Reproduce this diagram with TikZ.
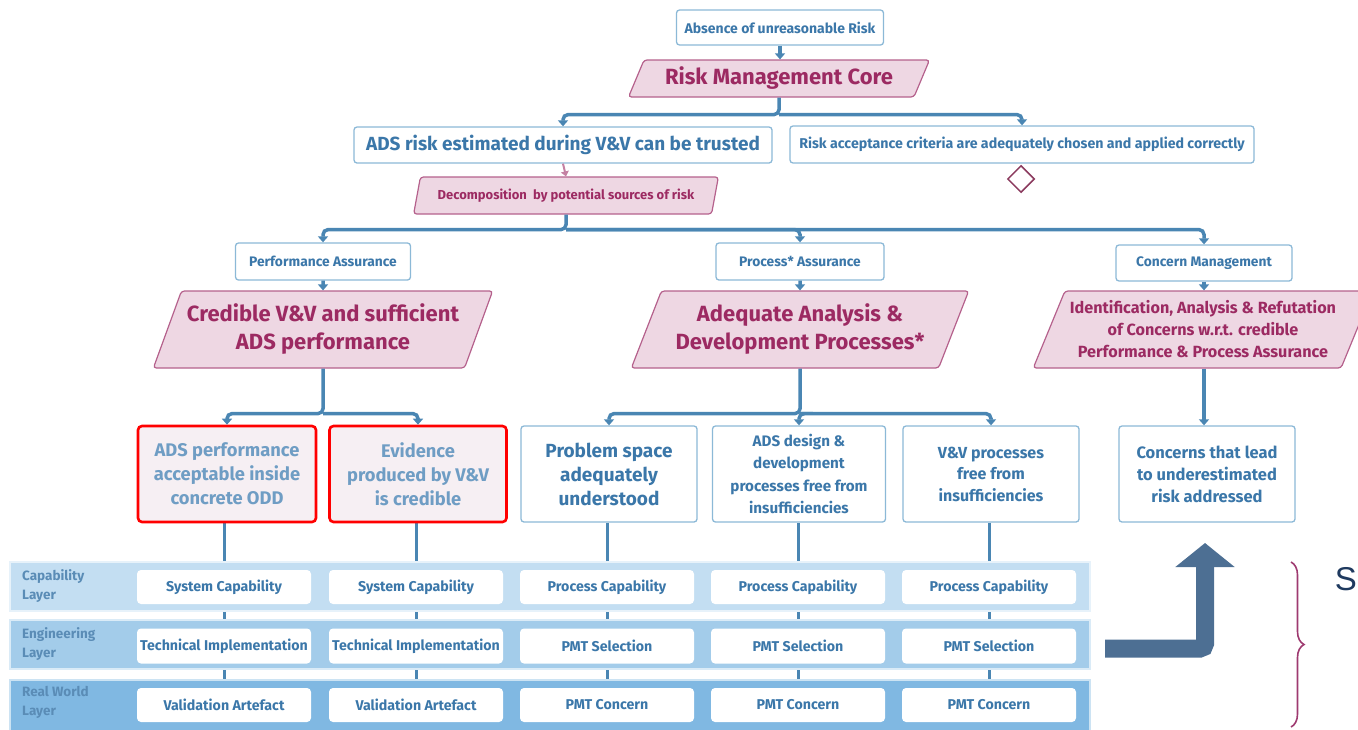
\documentclass[tikz,border=0pt]{standalone}
\usepackage{fontspec}
\setmainfont{Fira Sans}
\newfontfamily\arialfont{Liberation Sans}
\usetikzlibrary{shapes.geometric,arrows.meta,decorations.pathreplacing,calc}
\pgfdeclarelayer{bg}\pgfdeclarelayer{mid}\pgfsetlayers{bg,mid,main}
\definecolor{connc}{HTML}{4A86B3}
\definecolor{bbord}{HTML}{8CB9D7}
\definecolor{btext}{HTML}{3B77A9}
\definecolor{pfill}{HTML}{EED7E3}
\definecolor{pbord}{HTML}{B5618C}
\definecolor{ptext}{HTML}{9C2A62}
\definecolor{rfill}{HTML}{F6EFF3}
\definecolor{rtext}{HTML}{6F9DC4}
\definecolor{capc}{HTML}{C3DEF2}
\definecolor{engc}{HTML}{A3CCEA}
\definecolor{rwc}{HTML}{80B8E2}
\definecolor{ltext}{HTML}{5A8CB6}
\definecolor{bigc}{HTML}{4D6F93}
\definecolor{bracec}{HTML}{9E3A70}
\definecolor{sc}{HTML}{1F3A5F}
\definecolor{diamc}{HTML}{8B3A5E}
\newcommand\fsz[2]{\fontsize{#1}{#2}\selectfont\bfseries}
\begin{document}
\begin{tikzpicture}[x=1pt,y=-1pt,
  bbox/.style={draw=bbord, line width=1.3pt, fill=white, rounded corners=3pt, text=btext, align=center, inner sep=0pt},
  redbox/.style={draw=red, line width=2.6pt, fill=rfill, rounded corners=4pt, text=rtext, align=center, inner sep=0pt},
  pgram/.style={trapezium, trapezium stretches=true, trapezium left angle=62, trapezium right angle=118, draw=pbord, line width=1.2pt, fill=pfill, rounded corners=3pt, text=ptext, align=center, inner sep=0pt},
  band/.style={draw=white!60!#1, line width=1.5pt, fill=#1, inner sep=0pt, minimum width=1080, minimum height=49},
  inbox/.style={draw=none, fill=white, rounded corners=4pt, text=btext, inner sep=0pt, minimum width=174, minimum height=34, font=\fsz{14.2}{16}},
  lay/.style={text=ltext, align=left, anchor=west, inner sep=0pt, font=\fsz{13.5}{19}},
  tip/.style={-{Triangle[width=10pt,length=6pt]}},
  conn/.style={draw=connc, line width=3.5pt, rounded corners=5pt},
  vline/.style={draw=connc, line width=3pt},
]
\useasboundingbox (0,0) rectangle (1358,729);
\clip (0,0) rectangle (1358,729);

% top part
\node[bbox, minimum width=207, minimum height=35, font=\fsz{14}{16}] (abs) at (780,27.5) {Absence of unreasonable Risk};
\node[pgram, trapezium left angle=60, trapezium right angle=120, minimum width=302, minimum height=37, font=\fsz{22}{26}] (rmc) at (779,78.5) {Risk Management Core};
\node[bbox, minimum width=418, minimum height=36, font=\fsz{19}{21}] (ads) at (563,145) {ADS risk estimated during V\&V can be trusted};
\node[bbox, minimum width=464, minimum height=37, font=\fsz{14.2}{16}] (rac) at (1022,144.5) {Risk acceptance criteria are adequately chosen and applied correctly};
\node[diamond, draw=diamc, line width=1.5pt, fill=white, minimum width=27, minimum height=27, inner sep=0pt] (dia) at (1021,179) {};
\node[pgram, trapezium left angle=66, trapezium right angle=114, minimum width=306, minimum height=37, font=\fsz{13}{15}] (dec) at (566,195.5) {Decomposition\ \ by potential sources of risk};

\draw[conn, tip] (abs.south) -- (abs.south |- rmc.north);
\draw[conn, tip] (rmc.south) -- ++(0,17) coordinate (j1) -| (ads.north);
\draw[conn, tip] (j1) -| (rac.north);
\draw[draw=pbord!80, line width=2pt, -{Triangle[width=8pt,length=5pt]}] (ads.south) -- (dec.north);

% assurance level
\node[bbox, minimum width=175, minimum height=37, font=\fsz{13.8}{15}] (pa) at (323,261.5) {Performance Assurance};
\node[bbox, minimum width=168, minimum height=37, font=\fsz{13.8}{15}] (pra) at (800,261.5) {Process* Assurance};
\node[bbox, minimum width=176, minimum height=36, font=\fsz{13.8}{15}] (cm) at (1204,263) {Concern Management};

\draw[conn, tip] (dec.south) -- ++(0,15) coordinate (j2) -| (pa.north);
\draw[conn, tip] (j2) -| (pra.north);
\draw[conn, tip] (j2) -| (cm.north);

\node[pgram, minimum width=341, minimum height=77, font=\fsz{22}{28}] (cred) at (323,329.5) {Credible V\&V and sufficient\\ADS performance};
\node[pgram, minimum width=338, minimum height=77, font=\fsz{22}{28}] (adq) at (800,329.5) {Adequate Analysis \&\\Development Processes*};
\node[pgram, minimum width=340, minimum height=77, font=\fsz{16.2}{22}] (idn) at (1203,329.5) {Identification, Analysis \& Refutation\\of Concerns w.r.t. credible\\Performance \& Process Assurance};

\draw[conn, tip] (pa.south) -- (cred.north);
\draw[conn, tip] (pra.south) -- (adq.north);
\draw[conn, tip] (cm.south) -- (cm.south |- idn.north);

% goal boxes
\node[redbox, minimum width=178, minimum height=96, font=\fsz{18.3}{24}] (g1) at (227,474) {ADS performance\\acceptable inside\\concrete ODD};
\node[redbox, minimum width=177, minimum height=96, font=\fsz{18.3}{24}] (g2) at (418,474) {Evidence\\produced by V\&V\\is credible};
\node[bbox, minimum width=176, minimum height=96, font=\fsz{19}{24}] (g3) at (609,474) {Problem space\\adequately\\understood};
\node[bbox, minimum width=173, minimum height=96, font=\fsz{15.2}{22.5}] (g4) at (799,474) {ADS design \&\\development\\processes free from\\insufficiencies};
\node[bbox, minimum width=176, minimum height=96, font=\fsz{16}{21.5}] (g5) at (991,474) {V\&V processes\\free from\\insufficiencies};
\node[bbox, minimum width=176, minimum height=96, font=\fsz{16.5}{22}] (g6) at (1207,474) {Concerns that lead\\to underestimated\\risk addressed};

\draw[conn, tip] (cred.south) -- ++(0,45) coordinate (j3) -| (g1.north);
\draw[conn, tip] (j3) -| (g2.north);
\draw[conn, tip] (adq.south) -- ++(0,45) coordinate (j4) -| (g3.north);
\draw[conn, tip] (j4) -| (g4.north);
\draw[conn, tip] (j4) -| (g5.north);
\draw[conn, tip] (idn.south -| g6.north) ++(-3,0) -- ($(g6.north)+(-3,0)$);

% layers
\begin{pgfonlayer}{mid}
\node[band=capc] (capband) at (550,586.5) {};
\node[band=engc] (engband) at (550,644.5) {};
\node[band=rwc, minimum height=52] (rwband) at (550,706) {};
\end{pgfonlayer}
\node[lay] (capl) at (22,586) {Capability\\Layer};
\node[lay] (engl) at (22,644) {Engineering\\Layer};
\node[lay] (rwl) at (22,702) {Real World\\Layer};

\foreach \n/\x/\a/\b/\c in {1/224/System Capability/Technical Implementation/Validation Artefact,
                            2/416/System Capability/Technical Implementation/Validation Artefact,
                            3/607/Process Capability/PMT Selection/PMT Concern,
                            4/798/Process Capability/PMT Selection/PMT Concern,
                            5/989/Process Capability/PMT Selection/PMT Concern}{
  \node[inbox] (c\n) at (\x,587) {\a};
  \node[inbox, minimum height=35] (e\n) at (\x,646) {\b};
  \node[inbox] (r\n) at (\x,705) {\c};
}
\begin{pgfonlayer}{bg}
\foreach \n in {1,...,5}{
  \draw[vline] (g\n.south -| c\n.north) -- (c\n.center) -- (e\n.center) -- (r\n.center) -- ++(0,40);
}
\end{pgfonlayer}

% big arrow, brace and label
\draw[bigc, line width=18pt, rounded corners=5pt, -{Triangle[width=58pt,length=24pt]}] (1105,648.5) -- (1205,648.5) -- (1205,543);
\draw[bracec, line width=1.6pt, decorate, decoration={brace, amplitude=13pt}] (1291,562) -- (1291,727);
\node[anchor=east, inner sep=0pt, text=sc, font=\arialfont\fontsize{33}{36}\selectfont] (s) at (1357,579) {S};
\end{tikzpicture}
\end{document}
